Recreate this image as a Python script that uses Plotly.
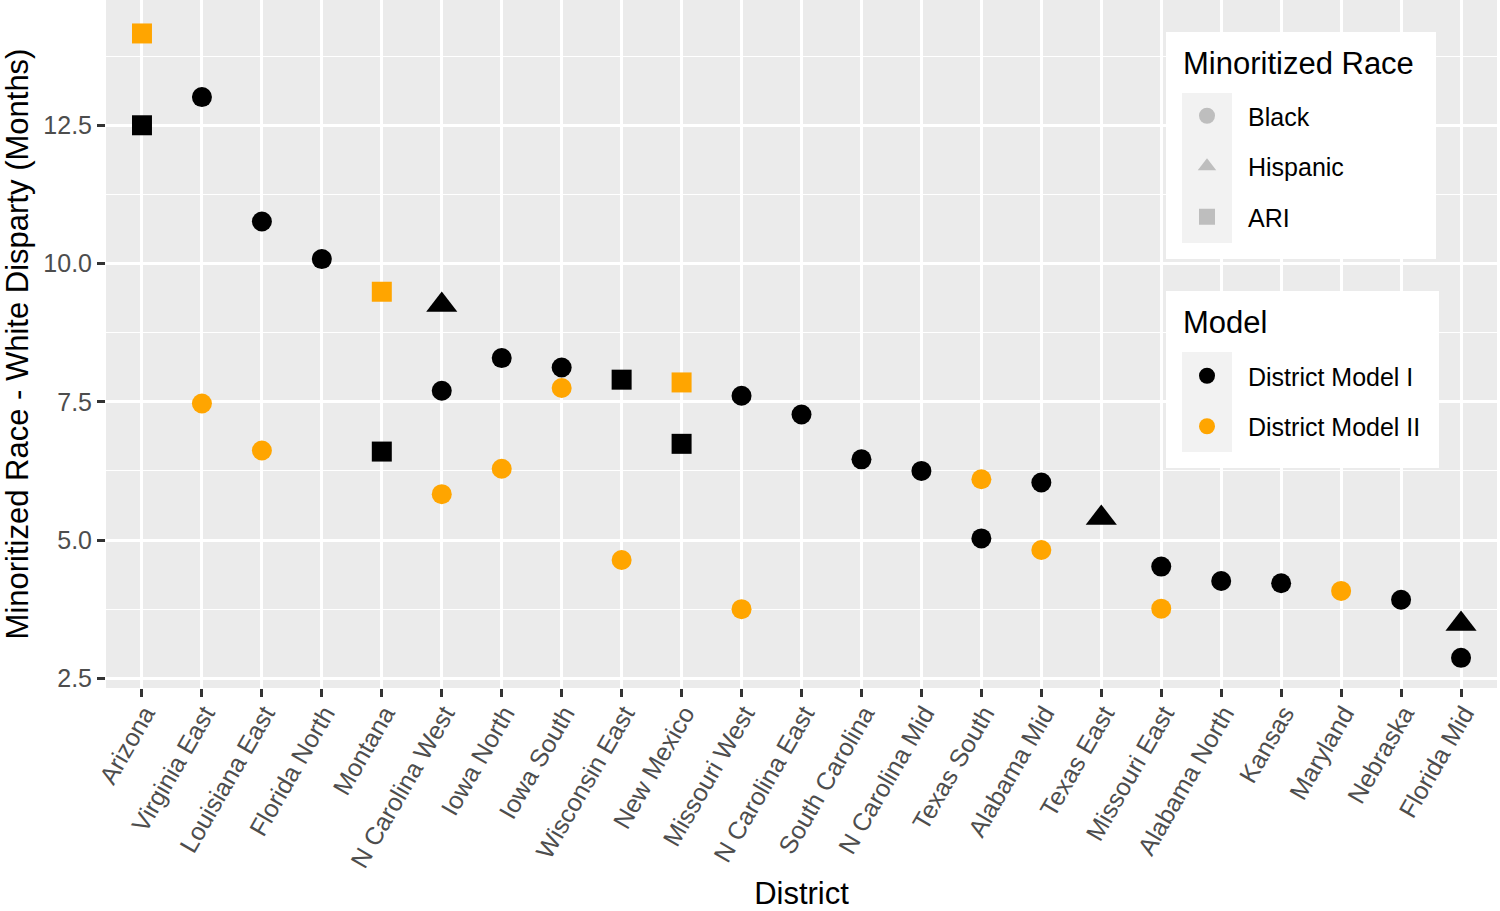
import plotly.graph_objects as go

districts = ["Arizona", "Virginia East", "Louisiana East", "Florida North", "Montana",
             "N Carolina West", "Iowa North", "Iowa South", "Wisconsin East", "New Mexico",
             "Missouri West", "N Carolina East", "South Carolina", "N Carolina Mid",
             "Texas South", "Alabama Mid", "Texas East", "Missouri East", "Alabama North",
             "Kansas", "Maryland", "Nebraska", "Florida Mid"]

pt_district = ["Arizona", "Arizona", "Virginia East", "Virginia East", "Louisiana East",
               "Louisiana East", "Florida North", "Montana", "Montana", "N Carolina West",
               "N Carolina West", "N Carolina West", "Iowa North", "Iowa North", "Iowa South",
               "Iowa South", "Wisconsin East", "Wisconsin East", "New Mexico", "New Mexico",
               "Missouri West", "Missouri West", "N Carolina East", "South Carolina",
               "N Carolina Mid", "Texas South", "Texas South", "Alabama Mid", "Alabama Mid",
               "Texas East", "Missouri East", "Missouri East", "Alabama North", "Kansas",
               "Maryland", "Nebraska", "Florida Mid", "Florida Mid"]
pt_value = [14.16, 12.50, 13.01, 7.47, 10.76,
            6.62, 10.08, 9.49, 6.60, 9.25,
            7.70, 5.83, 8.29, 6.29, 8.12,
            7.75, 7.90, 4.64, 7.85, 6.74,
            7.61, 3.75, 7.27, 6.46,
            6.25, 6.10, 5.03, 6.04, 4.82,
            5.40, 4.52, 3.76, 4.26, 4.22,
            4.08, 3.92, 3.48, 2.87]
pt_race = ["ARI", "ARI", "Black", "Black", "Black",
           "Black", "Black", "ARI", "ARI", "Hispanic",
           "Black", "Black", "Black", "Black", "Black",
           "Black", "ARI", "Black", "ARI", "ARI",
           "Black", "Black", "Black", "Black",
           "Black", "Black", "Black", "Black", "Black",
           "Hispanic", "Black", "Black", "Black", "Black",
           "Black", "Black", "Hispanic", "Black"]
pt_model = ["District Model II", "District Model I", "District Model I", "District Model II", "District Model I",
            "District Model II", "District Model I", "District Model II", "District Model I", "District Model I",
            "District Model I", "District Model II", "District Model I", "District Model II", "District Model I",
            "District Model II", "District Model I", "District Model II", "District Model II", "District Model I",
            "District Model I", "District Model II", "District Model I", "District Model I",
            "District Model I", "District Model II", "District Model I", "District Model I", "District Model II",
            "District Model I", "District Model I", "District Model II", "District Model I", "District Model I",
            "District Model II", "District Model I", "District Model I", "District Model I"]

races = ["Black", "Hispanic", "ARI"]
models = ["District Model I", "District Model II"]
legend_titles = ["Minoritized Race", "Model"]

race_symbol = {"Black": "circle", "Hispanic": "triangle-up", "ARI": "square"}
race_size = {"Black": 20, "Hispanic": 27, "ARI": 20}
model_color = {"District Model I": "#000000", "District Model II": "#FFA500"}

FONT = "Liberation Sans, Arial, Helvetica, sans-serif"

fig = go.Figure()

for m in models:
    for r in races:
        xs = [d for d, rr, mm in zip(pt_district, pt_race, pt_model) if rr == r and mm == m]
        ys = [v for v, rr, mm in zip(pt_value, pt_race, pt_model) if rr == r and mm == m]
        if not xs:
            continue
        fig.add_trace(go.Scatter(
            x=xs, y=ys, mode="markers", showlegend=False,
            marker=dict(symbol=race_symbol[r], size=race_size[r], color=model_color[m],
                        line=dict(width=0)),
        ))

# legend entries: shape legend
for r in races:
    fig.add_trace(go.Scatter(
        x=[None], y=[None], mode="markers", name=r, legend="legend", legendgroup=r,
        marker=dict(symbol=race_symbol[r], size=race_size[r], color="#BEBEBE", line=dict(width=0)),
    ))
# colour legend
for m in models:
    fig.add_trace(go.Scatter(
        x=[None], y=[None], mode="markers", name=m, legend="legend2", legendgroup=m,
        marker=dict(symbol="circle", size=20, color=model_color[m], line=dict(width=0)),
    ))

# plot-area geometry (pixels)
L, R, T, B = 106, 1497, 0, 688
W, H = R - L, B - T


def px(x):
    return (x - L) / W


def py(y):
    return (B - y) / H


shapes = []
for (x0, y0, x1, y1) in [(1166, 32, 1436, 259), (1166, 291, 1439, 468)]:
    shapes.append(dict(type="rect", xref="paper", yref="paper", layer="above",
                       x0=px(x0), x1=px(x1), y0=py(y1), y1=py(y0),
                       fillcolor="white", line=dict(width=0)))
for (x0, y0, x1, y1) in [(1182, 93, 1232, 243), (1182, 352, 1232, 452)]:
    shapes.append(dict(type="rect", xref="paper", yref="paper", layer="above",
                       x0=px(x0), x1=px(x1), y0=py(y1), y1=py(y0),
                       fillcolor="#F2F2F2", line=dict(width=0)))

annotations = []
for title, ty in zip(legend_titles, [63, 323]):
    annotations.append(dict(text=title, xref="paper", yref="paper", x=px(1181), y=py(ty),
                            xanchor="left", yanchor="middle", showarrow=False,
                            font=dict(family=FONT, size=31, color="black")))

legend_common = dict(
    bgcolor="rgba(0,0,0,0)", borderwidth=0, xanchor="left", yanchor="top",
    font=dict(family=FONT, size=25, color="black"),
    tracegroupgap=15, itemwidth=72, itemclick=False,
)

fig.update_layout(
    width=1500, height=911,
    paper_bgcolor="white", plot_bgcolor="#EBEBEB",
    margin=dict(l=L, r=1500 - R, t=T, b=911 - B, pad=0),
    font=dict(family=FONT, color="black"),
    shapes=shapes,
    annotations=annotations,
    xaxis=dict(
        type="category", categoryorder="array", categoryarray=districts,
        range=[-0.6, len(districts) - 0.4],
        showgrid=True, gridcolor="white", gridwidth=2.5,
        zeroline=False, showline=False,
        ticks="outside", ticklen=8, tickwidth=2.5, tickcolor="#333333",
        tickangle=-60, tickfont=dict(family=FONT, size=25, color="#4D4D4D"),
        ticklabelstandoff=-8, ticklabelshift=3,
        title=dict(text="District", font=dict(family=FONT, size=31, color="black"), standoff=12),
        automargin=False,
    ),
    yaxis=dict(
        range=[2.325, 14.765],
        tick0=2.5, dtick=2.5, tickformat=".1f",
        showgrid=True, gridcolor="white", gridwidth=2.5,
        minor=dict(dtick=1.25, tick0=0, showgrid=True, gridcolor="white", gridwidth=1.2, ticks=""),
        zeroline=False, showline=False,
        ticks="outside", ticklen=8, tickwidth=2.5, tickcolor="#333333",
        tickfont=dict(family=FONT, size=25, color="#4D4D4D"),
        title=dict(text="Minoritized Race - White Disparty (Months)",
                   font=dict(family=FONT, size=31, color="black"), standoff=13),
        automargin=False,
    ),
    legend=dict(legend_common, x=px(1166), y=py(93)),
    legend2=dict(legend_common, x=px(1166), y=py(353)),
)

fig.write_html("out.html", config={"displayModeBar": False},
               post_script="document.body.style.margin='0';")
